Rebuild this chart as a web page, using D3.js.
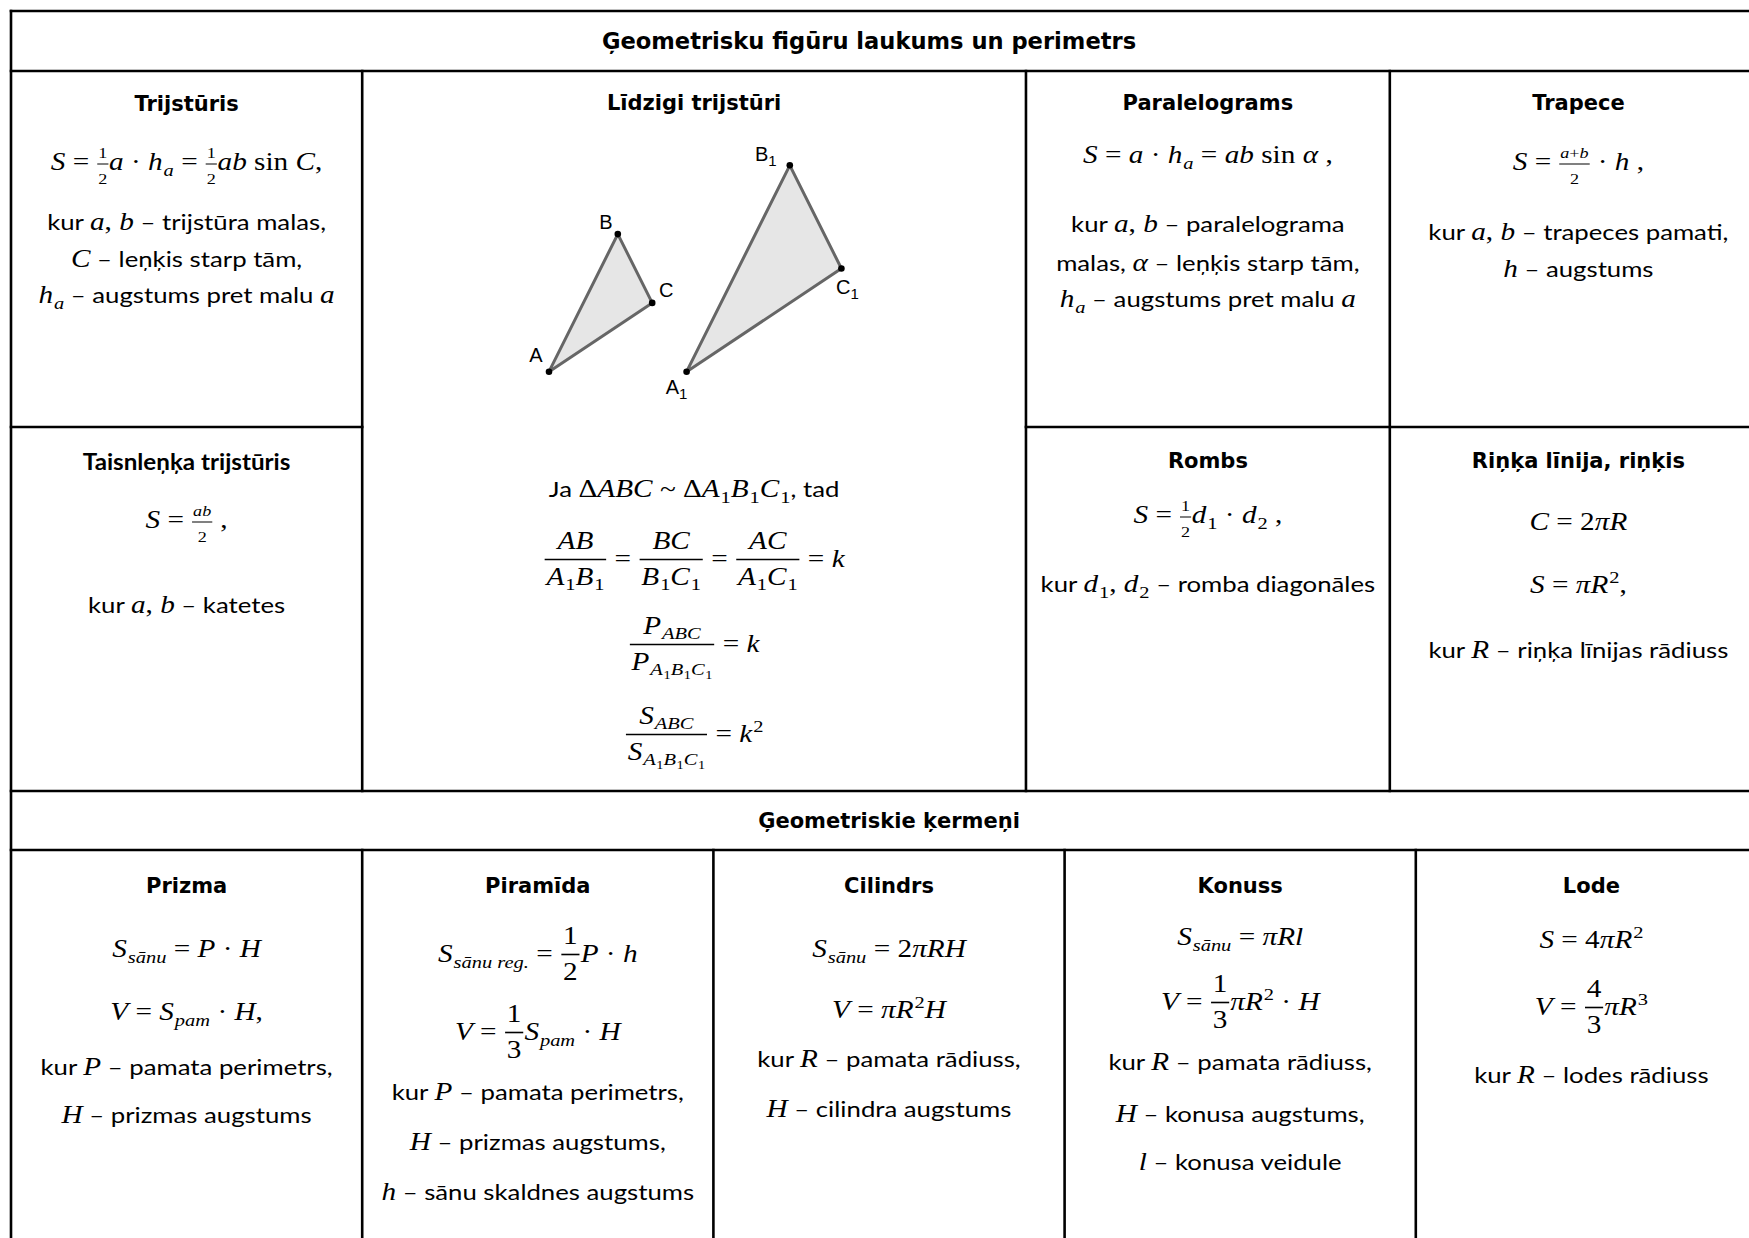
<!DOCTYPE html>
<html><head><meta charset="utf-8">
<script src="https://cdn.jsdelivr.net/npm/d3@7"></script>
<style>
html,body{margin:0;padding:0;background:#fff;}
svg{display:block;}
text{white-space:pre;}
</style></head><body>
<svg id="chart" width="1749" height="1238"></svg>
<script>
// ---------------- token helpers (body text, math italic, math roman, sub/sup, fractions)
const t = s => ({k:"t", f:"body", s});
const m = s => ({k:"t", f:"mi", s});
const r = s => ({k:"t", f:"mr", s});
const sb = (b, s) => ({k:"sub", base:[].concat(b), s:[].concat(s)});
const sp = (b, s) => ({k:"sup", base:[].concat(b), s:[].concat(s)});
const fr = (n, d) => ({k:"frac", n:[].concat(n), d:[].concat(d), small:false});
const frs = (n, d) => ({k:"frac", n:[].concat(n), d:[].concat(d), small:true});
const A1 = sb(m("A"), r("1")), B1 = sb(m("B"), r("1")), C1 = sb(m("C"), r("1"));

// ---------------- DATA
const sectionTitles = ["Ģeometrisku figūru laukums un perimetrs", "Ģeometriskie ķermeņi"];
const figureNames = ["Trijstūris", "Līdzigi trijstūri", "Paralelograms", "Trapece",
                     "Taisnleņķa trijstūris", "Rombs", "Riņķa līnija, riņķis"];
const solidNames = ["Prizma", "Piramīda", "Cilindrs", "Konuss", "Lode"];

const trijsturisLines = [
  [m("S"), r(" = "), frs(r("1"), r("2")), m("a"), r(" · "), sb(m("h"), m("a")), r(" = "), frs(r("1"), r("2")), m("ab"), r(" sin "), m("C"), r(",")],
  [t("kur "), m("a"), r(", "), m("b"), t(" – trijstūra malas,")],
  [m("C"), t(" – leņķis starp tām,")],
  [sb(m("h"), m("a")), t(" – augstums pret malu "), m("a")]
];
const lidzigiLines = [
  [t("Ja "), r("Δ"), m("ABC"), r(" ~ "), r("Δ"), A1, B1, C1, t(", tad")],
  [fr(m("AB"), [A1, B1]), r(" = "), fr(m("BC"), [B1, C1]), r(" = "), fr(m("AC"), [A1, C1]), r(" = "), m("k")],
  [fr(sb(m("P"), m("ABC")), sb(m("P"), [A1, B1, C1])), r(" = "), m("k")],
  [fr(sb(m("S"), m("ABC")), sb(m("S"), [A1, B1, C1])), r(" = "), sp(m("k"), r("2"))]
];
const paralelogramsLines = [
  [m("S"), r(" = "), m("a"), r(" · "), sb(m("h"), m("a")), r(" = "), m("ab"), r(" sin "), m("α"), r(" ,")],
  [t("kur "), m("a"), r(", "), m("b"), t(" – paralelograma")],
  [t("malas, "), m("α"), t(" – leņķis starp tām,")],
  [sb(m("h"), m("a")), t(" – augstums pret malu "), m("a")]
];
const trapeceLines = [
  [m("S"), r(" = "), frs([m("a"), r("+"), m("b")], r("2")), r(" · "), m("h"), r(" ,")],
  [t("kur "), m("a"), r(", "), m("b"), t(" – trapeces pamati,")],
  [m("h"), t(" – augstums")]
];
const taisnlenkaLines = [
  [m("S"), r(" = "), frs(m("ab"), r("2")), r(" ,")],
  [t("kur "), m("a"), r(", "), m("b"), t(" – katetes")]
];
const rombsLines = [
  [m("S"), r(" = "), frs(r("1"), r("2")), sb(m("d"), r("1")), r(" · "), sb(m("d"), r("2")), r(" ,")],
  [t("kur "), sb(m("d"), r("1")), r(", "), sb(m("d"), r("2")), t(" – romba diagonāles")]
];
const rinkisLines = [
  [m("C"), r(" = 2"), m("πR")],
  [m("S"), r(" = "), m("π"), sp(m("R"), r("2")), r(",")],
  [t("kur "), m("R"), t(" – riņķa līnijas rādiuss")]
];
const prizmaLines = [
  [sb(m("S"), m("sānu")), r(" = "), m("P"), r(" · "), m("H")],
  [m("V"), r(" = "), sb(m("S"), m("pam")), r(" · "), m("H"), r(",")],
  [t("kur "), m("P"), t(" – pamata perimetrs,")],
  [m("H"), t(" – prizmas augstums")]
];
const piramidaLines = [
  [sb(m("S"), m("sānu reg.")), r(" = "), fr(r("1"), r("2")), m("P"), r(" · "), m("h")],
  [m("V"), r(" = "), fr(r("1"), r("3")), sb(m("S"), m("pam")), r(" · "), m("H")],
  [t("kur "), m("P"), t(" – pamata perimetrs,")],
  [m("H"), t(" – prizmas augstums,")],
  [m("h"), t(" – sānu skaldnes augstums")]
];
const cilindrsLines = [
  [sb(m("S"), m("sānu")), r(" = 2"), m("πRH")],
  [m("V"), r(" = "), m("π"), sp(m("R"), r("2")), m("H")],
  [t("kur "), m("R"), t(" – pamata rādiuss,")],
  [m("H"), t(" – cilindra augstums")]
];
const konussLines = [
  [sb(m("S"), m("sānu")), r(" = "), m("πRl")],
  [m("V"), r(" = "), fr(r("1"), r("3")), m("π"), sp(m("R"), r("2")), r(" · "), m("H")],
  [t("kur "), m("R"), t(" – pamata rādiuss,")],
  [m("H"), t(" – konusa augstums,")],
  [m("l"), t(" – konusa veidule")]
];
const lodeLines = [
  [m("S"), r(" = 4"), m("π"), sp(m("R"), r("2"))],
  [m("V"), r(" = "), fr(r("4"), r("3")), m("π"), sp(m("R"), r("3"))],
  [t("kur "), m("R"), t(" – lodes rādiuss")]
];

// similar triangles (grid units) and vertex names
const triangleSmall = [[0, 0], [2, 4], [3, 2]];
const triangleBig = [[4, 0], [7, 6], [8.5, 3]];
const vertexNames = ["A", "B", "C"];

// ---------------- LAYOUT
const svg = d3.select("#chart");
const colX = d3.scaleLinear().domain([0, 5]).range([11, 1767]);
const rowY = [11, 71, 427, 791, 850, 1270];
const topCuts = [0, 1, 2.89, 3.926, 5];
const botCuts = [0, 1, 2, 3, 4, 5];
const SX = 1.17;
const FS = {body: 22, mi: 25, mr: 25};
const FF = {body: "Lato, 'Open Sans', sans-serif",
            mi: "'Liberation Serif', 'Times New Roman', serif",
            mr: "'Liberation Serif', 'Times New Roman', serif"};
const TITLE_FONT = "'DejaVu Sans', Verdana, sans-serif";

const cells = [
  {title: figureNames[0], c: [0, 1], rr: [1, 2], ty: 40, lines: trijsturisLines, ly: [99, 159, 196, 232]},
  {title: figureNames[1], c: [1, 2], rr: [1, 3], ty: 39, lines: lidzigiLines, ly: [426, 496, 581, 671]},
  {title: figureNames[2], c: [2, 3], rr: [1, 2], ty: 39, lines: paralelogramsLines, ly: [92, 161, 200, 236]},
  {title: figureNames[3], c: [3, 4], rr: [1, 2], ty: 39, lines: trapeceLines, ly: [99, 169, 206]},
  {title: figureNames[4], c: [0, 1], rr: [2, 3], ty: 43, lines: taisnlenkaLines, ly: [101, 186], calibri: true},
  {title: figureNames[5], c: [2, 3], rr: [2, 3], ty: 41, lines: rombsLines, ly: [96, 165]},
  {title: figureNames[6], c: [3, 4], rr: [2, 3], ty: 41, lines: rinkisLines, ly: [103, 166, 231]}
];
const solidLines = [prizmaLines, piramidaLines, cilindrsLines, konussLines, lodeLines];
const solidLY = [[107, 170, 225, 273], [112, 190, 250, 300, 350], [107, 168, 217, 267], [95, 160, 220, 272, 320], [98, 165, 233]];
solidNames.forEach((n, i) => cells.push({title: n, c: [i, i + 1], rr: [4, 5], ty: 43, lines: solidLines[i], ly: solidLY[i], bottom: true}));

// ---------------- text layout engine
const meas = svg.append("text").attr("xml:space", "preserve").style("visibility", "hidden");
function textW(s, f, size) {
  meas.attr("font-family", FF[f]).attr("font-size", size)
      .attr("font-style", f === "mi" ? "italic" : "normal").text(s);
  return meas.node().getComputedTextLength();
}
function mk(tok, sc) {
  if (tok.k === "t") {
    const size = FS[tok.f] * sc, w = textW(tok.s, tok.f, size);
    return {w, draw: (g, x, y) => g.append("text").attr("x", x).attr("y", y)
      .attr("xml:space", "preserve").attr("font-family", FF[tok.f]).attr("font-size", size)
      .attr("font-style", tok.f === "mi" ? "italic" : "normal").attr("fill", "#000").text(tok.s)};
  }
  const base = FS.mi * sc;
  if (tok.k === "sub" || tok.k === "sup") {
    const b = rowBox(tok.base, sc), s = rowBox(tok.s, sc * 0.7);
    const dy = tok.k === "sub" ? 0.22 * base : -0.42 * base;
    const gap = 0.03 * base;
    return {w: b.w + gap + s.w, draw: (g, x, y) => { b.draw(g, x, y); s.draw(g, x + b.w + gap, y + dy); }};
  }
  // fraction
  const fs = tok.small ? 0.62 : 1;
  const n = rowBox(tok.n, sc * fs), d = rowBox(tok.d, sc * fs);
  const pad = (tok.small ? 0.06 : 0.1) * base;
  const w = Math.max(n.w, d.w) + 2 * pad;
  const ny = (tok.small ? -0.48 : -0.74) * base, dy = (tok.small ? 0.58 : 0.72) * base,
        ay = (tok.small ? -0.24 : -0.3) * base;
  return {w, draw: (g, x, y) => {
    n.draw(g, x + (w - n.w) / 2, y + ny);
    d.draw(g, x + (w - d.w) / 2, y + dy);
    g.append("line").attr("x1", x + pad * 0.4).attr("x2", x + w - pad * 0.4)
      .attr("y1", y + ay).attr("y2", y + ay).attr("stroke", "#000")
      .attr("stroke-width", tok.small ? 1 : 1.6);
  }};
}
function rowBox(tokens, sc) {
  const bs = tokens.map(tk => mk(tk, sc));
  const w = d3.sum(bs, b => b.w);
  return {w, draw: (g, x, y) => { let cx = x; bs.forEach(b => { b.draw(g, cx, y); cx += b.w; }); }};
}
function drawLine(parent, tokens, cx, baseline) {
  const b = rowBox(tokens, 1);
  const g = parent.append("g").attr("transform", `translate(${cx - b.w * SX / 2},${baseline}) scale(${SX},1)`);
  b.draw(g, 0, 0);
}

// ---------------- section titles
const titleG = svg.append("g");
[[sectionTitles[0], 869, rowY[0] + 38, 22.6], [sectionTitles[1], colX(2.5), rowY[3] + 37, 21]].forEach(([s, x, y, fsz]) => {
  titleG.append("text").attr("x", x).attr("y", y).attr("text-anchor", "middle")
    .attr("font-family", TITLE_FONT).attr("font-weight", "bold").attr("font-size", fsz).text(s);
});

// ---------------- cells
const cellG = svg.append("g");
cells.forEach(c => {
  const cuts = c.bottom ? botCuts : topCuts;
  const x0 = colX(cuts[c.c[0]]), x1 = colX(cuts[c.c[1]]);
  const cx = (x0 + x1) / 2, y0 = rowY[c.rr[0]];
  const g = cellG.append("g");
  g.append("text")
    .attr("transform", `translate(${cx},${y0 + c.ty}) scale(${c.calibri ? 1.1 : 1},1)`)
    .attr("text-anchor", "middle")
    .attr("font-family", c.calibri ? "Lato, sans-serif" : TITLE_FONT)
    .attr("font-weight", "bold").attr("font-size", c.calibri ? 22 : 21).text(c.title);
  c.lines.forEach((ln, i) => drawLine(g, ln, cx, y0 + c.ly[i]));
});

// ---------------- similar triangles
const tx = d3.scaleLinear().domain([0, 8.5]).range([549, 841.4]);
const ty = d3.scaleLinear().domain([0, 6]).range([371.7, 165.3]);
const triG = svg.append("g");
const labelOffsets = [
  [[-13, -10], [-12, -5], [14, -6]],
  [[-10, 22], [-24, -4], [6, 25]]
];
[triangleSmall, triangleBig].forEach((tri, ti) => {
  triG.append("path")
    .attr("d", d3.line().x(p => tx(p[0])).y(p => ty(p[1]))(tri) + "Z")
    .attr("fill", "#e6e6e6").attr("stroke", "#666").attr("stroke-width", 3).attr("stroke-linejoin", "round");
  tri.forEach((p, i) => {
    triG.append("circle").attr("cx", tx(p[0])).attr("cy", ty(p[1])).attr("r", 3.3).attr("fill", "#000");
    const [ox, oy] = labelOffsets[ti][i];
    const lab = triG.append("text").attr("x", tx(p[0]) + ox).attr("y", ty(p[1]) + oy)
      .attr("text-anchor", "middle").attr("font-family", "'Liberation Sans', Arial, sans-serif")
      .attr("font-size", 20).attr("fill", "#000").text(vertexNames[i]);
    if (ti === 1) lab.append("tspan").attr("font-size", 15).attr("dy", 5).text("1");
  });
});

// ---------------- grid lines
const gridG = svg.append("g").attr("stroke", "#000").attr("stroke-width", 2.6).attr("stroke-linecap", "square");
const hLines = [[0, 5, 0], [0, 5, 1], [0, 1, 2], [2.89, 5, 2], [0, 5, 3], [0, 5, 4]];
const vLines = [[0, 0, 5], [1, 1, 3], [2.89, 1, 3], [3.926, 1, 3], [1, 4, 5], [2, 4, 5], [3, 4, 5], [4, 4, 5], [5, 0, 5]];
hLines.forEach(([a, b, ri]) => gridG.append("line").attr("x1", colX(a)).attr("x2", colX(b)).attr("y1", rowY[ri]).attr("y2", rowY[ri]));
vLines.forEach(([u, ra, rb]) => gridG.append("line").attr("x1", colX(u)).attr("x2", colX(u)).attr("y1", rowY[ra]).attr("y2", rowY[rb]));
</script>
</body></html>
